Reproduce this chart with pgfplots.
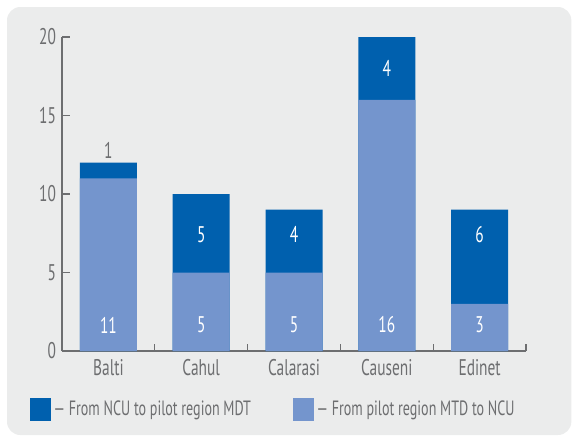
\documentclass[border=0pt]{standalone}
\usepackage{fontspec}
\setmainfont{PT Sans}[FakeStretch=0.68]
\usepackage{pgfplots}
\pgfplotsset{compat=1.18}
\definecolor{darkb}{RGB}{0,96,174}
\definecolor{lightb}{RGB}{116,149,205}
\definecolor{bg}{RGB}{235,236,236}
\definecolor{axgray}{RGB}{109,110,112}
\begin{document}
\begin{tikzpicture}[font=\fontsize{17pt}{19pt}\selectfont]
\useasboundingbox (0,0) rectangle (430.5pt,-327.75pt);
\fill[bg, rounded corners=10pt] (5.25pt,-5.25pt) rectangle (428.5pt,-326.25pt);
\begin{axis}[at={(46.5pt,-263.25pt)}, anchor=south west, scale only axis,
  width=348pt, height=235.5pt,
  xmin=-0.5, xmax=4.5, ymin=0, ymax=20,
  axis x line*=bottom, axis y line*=left,
  axis line style={axgray, line width=1pt, -},
  ybar, bar width=42.75pt, bar shift=0pt,
  xtick={0,1,2,3,4}, xticklabels={Balti,Cahul,Calarasi,Causeni,Edinet},
  x tick style={draw=none},
  extra x ticks={0.5,1.5,2.5,3.5,4.5},
  extra x tick labels={},
  extra x tick style={x tick style={draw=axgray, line width=1pt}, major tick length=5.25pt},
  ytick={0,5,10,15,20},
  tick align=inside,
  major tick length=6pt,
  y tick style={axgray, line width=1pt},
  ticklabel style={text=axgray},
  /pgf/number format/assume math mode=true,
  xticklabel style={yshift=-3pt},
  yticklabel style={xshift=-1pt},
  clip=false
]
% totals (light + dark)
\addplot[fill=darkb, draw=none] coordinates {(0,12) (1,10) (2,9) (3,20) (4,9)};
% light part
\addplot[fill=lightb, draw=none] coordinates {(0,11) (1,5) (2,5) (3,16) (4,3)};
\node[text=white] at (axis cs:0,1.66) {11};
\node[text=white] at (axis cs:1,1.66) {5};
\node[text=white] at (axis cs:2,1.66) {5};
\node[text=white] at (axis cs:3,1.66) {16};
\node[text=white] at (axis cs:4,1.66) {3};
\node[text=white] at (axis cs:1,7.4) {5};
\node[text=white] at (axis cs:2,7.4) {4};
\node[text=white] at (axis cs:3,18.0) {4};
\node[text=white] at (axis cs:4,7.4) {6};
\node[text=axgray] at (axis cs:0,12.76) {1};
\end{axis}
\begin{scope}[font=\fontsize{15.5pt}{17pt}\selectfont]
\fill[darkb] (22.5pt,-298.5pt) rectangle (38.25pt,-315.75pt);
\node[anchor=base west, inner sep=0pt, text=axgray] at (40pt,-311.25pt) {— From NCU to pilot region MDT};
\fill[lightb] (219.75pt,-298.5pt) rectangle (235.5pt,-315.75pt);
\node[anchor=base west, inner sep=0pt, text=axgray] at (237.25pt,-311.25pt) {— From pilot region MTD to NCU};
\end{scope}
\end{tikzpicture}
\end{document}
